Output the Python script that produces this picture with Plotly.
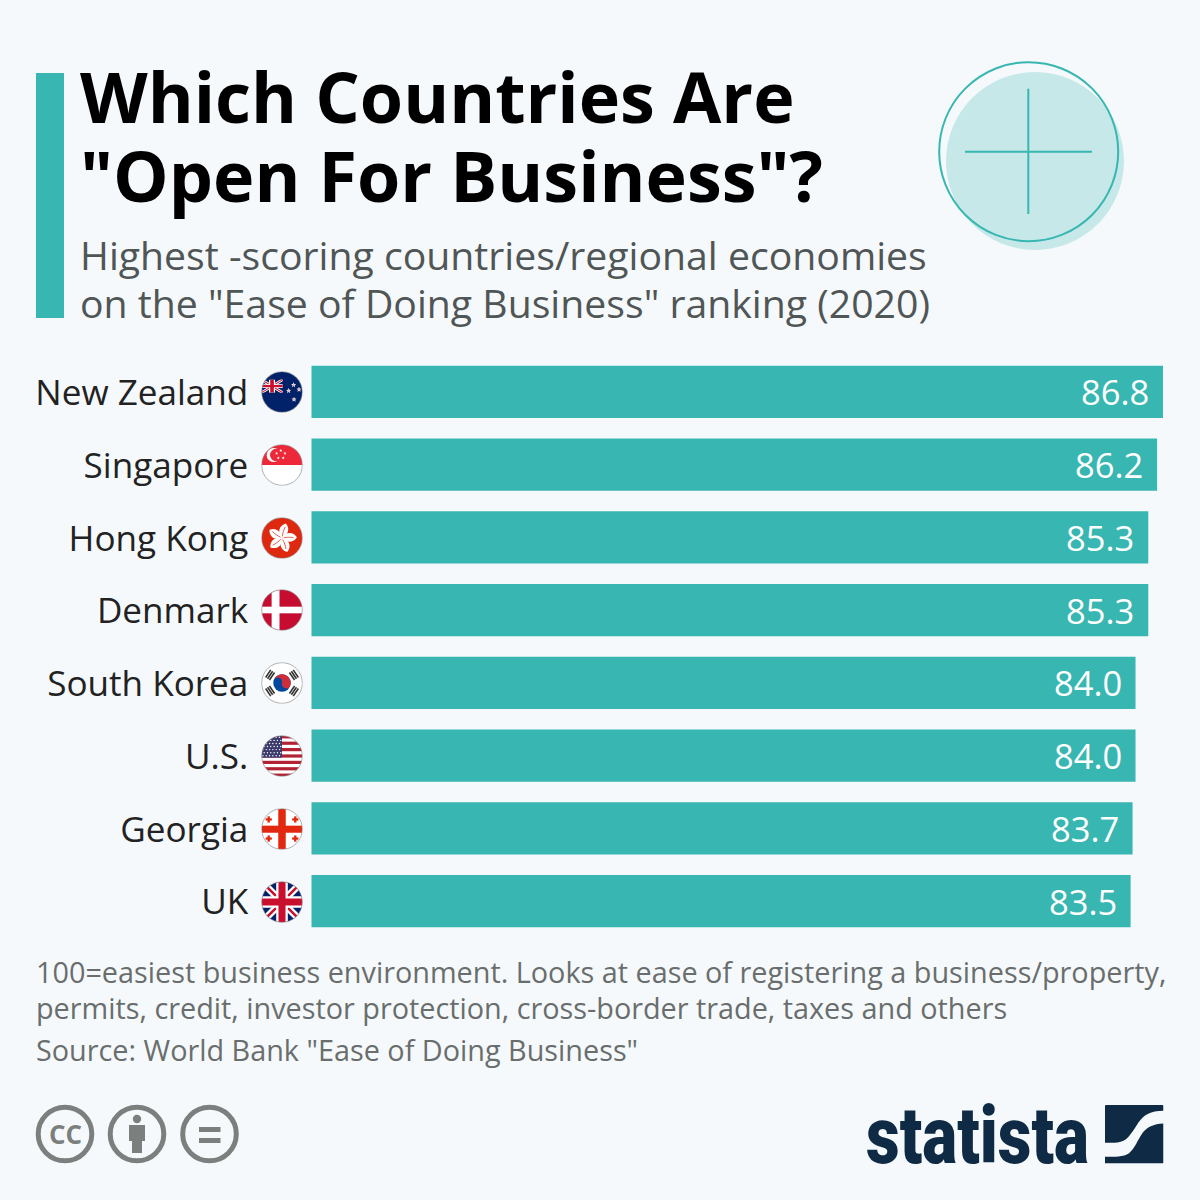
import base64, math
import plotly.graph_objects as go

countries = ["New Zealand", "Singapore", "Hong Kong", "Denmark", "South Korea", "U.S.", "Georgia", "UK"]
scores = [86.8, 86.2, 85.3, 85.3, 84.0, 84.0, 83.7, 83.5]
title_lines = ["Which Countries Are", "\"Open For Business\"?"]
subtitle_lines = ["Highest -scoring countries/regional economies", "on the \"Ease of Doing Business\" ranking (2020)"]
note_lines = ["100=easiest business environment. Looks at ease of registering a business/property,",
              "permits, credit, investor protection, cross-border trade, taxes and others"]
source_line = "Source: World Bank \"Ease of Doing Business\""

TEAL = "#38b6b1"
BG = "#f5f9fc"
NAVY = "#0f2a44"
GREY = "#7b807e"
FONT = "Open Sans"
W = 1200.0


def px(x):
    return x / W


def py(y):
    return 1 - y / W


def star(cx, cy, r, fill):
    pts = []
    for i in range(10):
        a = -math.pi / 2 + i * math.pi / 5
        rr = r if i % 2 == 0 else r * 0.42
        pts.append(f"{cx + rr * math.cos(a):.2f},{cy + rr * math.sin(a):.2f}")
    return f'<polygon points="{" ".join(pts)}" fill="{fill}"/>'


def jack():
    return ('<rect width="100" height="100" fill="#012169"/>'
            '<path d="M0 0L100 100M100 0L0 100" stroke="#fff" stroke-width="17"/>'
            '<path d="M0 0L100 100M100 0L0 100" stroke="#c8102e" stroke-width="6"/>'
            '<path d="M50 0V100M0 50H100" stroke="#fff" stroke-width="28"/>'
            '<path d="M50 0V100M0 50H100" stroke="#c8102e" stroke-width="17"/>')


def flag_nz():
    s = '<rect width="100" height="100" fill="#012169"/>'
    s += '<svg x="0" y="20" width="52" height="32" viewBox="0 0 100 100" preserveAspectRatio="none">' + jack() + '</svg>'
    for (x, y) in [(78, 33), (91, 44), (66, 47), (79, 68)]:
        s += star(x, y, 6.5, "#fff") + star(x, y, 4, "#e8a0a8")
    return s


def flag_sg():
    s = '<rect width="100" height="100" fill="#fff"/><rect width="100" height="50" fill="#ed2939"/>'
    s += '<circle cx="30" cy="26" r="17" fill="#fff"/><circle cx="36" cy="26" r="15" fill="#ed2939"/>'
    for (x, y) in [(47, 15), (57, 22), (53, 33), (41, 33), (37, 22)]:
        s += star(x, y, 4, "#fff")
    return s


def flag_hk():
    s = '<rect width="100" height="100" fill="#de2910"/>'
    for i in range(5):
        s += (f'<g transform="rotate({i * 72 + 12} 50 50)">'
              '<path d="M50 50C35 38 37 22 52 14C65 24 63 40 50 50Z" fill="#fff"/>'
              '<path d="M50 46C49 38 50 30 52 22" stroke="#de2910" stroke-width="1.6" fill="none"/></g>')
    return s


def flag_dk():
    return ('<rect width="100" height="100" fill="#c60c30"/>'
            '<rect x="25" width="19" height="100" fill="#fff"/>'
            '<rect y="42" width="100" height="16" fill="#fff"/>')


def flag_kr():
    s = '<rect width="100" height="100" fill="#fff"/>'
    s += '<circle cx="50" cy="50" r="21" fill="#0047a0"/>'
    s += '<path d="M29 50A21 21 0 0 1 71 50A10.5 10.5 0 0 1 50 50A10.5 10.5 0 0 0 29 50Z" fill="#cd2e3a" transform="rotate(15 50 50)"/>'
    for ang in (-56, 56, 124, -124):
        s += f'<g transform="rotate({ang} 50 50)">'
        for k in range(3):
            s += f'<rect x="39" y="{8 + k * 5.5}" width="22" height="3.8" fill="#333"/>'
        s += '</g>'
    return s


def flag_us():
    s = '<rect width="100" height="100" fill="#fff"/>'
    for i in range(0, 13, 2):
        s += f'<rect y="{i * 100 / 13:.2f}" width="100" height="{100 / 13:.2f}" fill="#b22234"/>'
    s += '<rect width="50" height="54" fill="#3c3b6e"/>'
    for r in range(7):
        for c in range(6):
            s += f'<circle cx="{4 + c * 8 + (r % 2) * 3}" cy="{5 + r * 7.4}" r="1.7" fill="#fff"/>'
    return s


def flag_ge():
    s = '<rect width="100" height="100" fill="#fff"/>'
    s += '<rect x="41" width="18" height="100" fill="#e2290f"/><rect y="42" width="100" height="17" fill="#e2290f"/>'
    for (x, y) in [(18, 27), (82, 27), (18, 73), (82, 73)]:
        s += (f'<rect x="{x - 7.5}" y="{y - 2.8}" width="15" height="5.6" fill="#e2290f"/>'
              f'<rect x="{x - 2.8}" y="{y - 7.5}" width="5.6" height="15" fill="#e2290f"/>')
    return s


def circle_flag(body, idx):
    svg = ('<svg xmlns="http://www.w3.org/2000/svg" width="200" height="200" viewBox="0 0 100 100">'
           f'<defs><clipPath id="c{idx}"><circle cx="50" cy="50" r="49"/></clipPath></defs>'
           f'<g clip-path="url(#c{idx})">{body}</g>'
           '<circle cx="50" cy="50" r="49" fill="none" stroke="#8a8a8a" stroke-width="1.6"/></svg>')
    return "data:image/svg+xml;base64," + base64.b64encode(svg.encode()).decode()


flags = [flag_nz(), flag_sg(), flag_hk(), flag_dk(), flag_kr(), flag_us(), flag_ge(), jack()]
flag_centres = [392, 465, 538, 610, 683, 756, 829, 902]

logo_svg = ('<svg xmlns="http://www.w3.org/2000/svg" width="350" height="350" viewBox="0 0 175 175">'
            f'<path d="M3 0H172Q175 0 175 3V17C135 18 118 28 100 52C85 76 70 100 55 107C42 114 25 113 0 113V3Q0 0 3 0Z" fill="{NAVY}"/>'
            f'<path d="M175 55V172Q175 175 172 175H0V155C30 155 55 155 72 144C88 132 98 105 112 84C125 66 145 56 175 55Z" fill="{NAVY}"/>'
            '</svg>')
logo_uri = "data:image/svg+xml;base64," + base64.b64encode(logo_svg.encode()).decode()

fig = go.Figure(go.Bar(
    x=scores, y=countries, orientation="h", marker=dict(color=TEAL, line=dict(width=0)),
    hoverinfo="skip", width=52 / 72.7,
))

images = [dict(source=circle_flag(b, i), xref="paper", yref="paper", x=px(282), y=py(c), sizex=px(41.5), sizey=41.5 / W,
               xanchor="center", yanchor="middle", sizing="stretch", layer="above")
          for i, (b, c) in enumerate(zip(flags, flag_centres))]
images.append(dict(source=logo_uri, xref="paper", yref="paper", x=px(1105), y=py(1105), sizex=px(58.5), sizey=58.5 / W,
                   xanchor="left", yanchor="top", sizing="stretch", layer="above"))


def rect(x0, y0, x1, y1, color):
    return dict(type="rect", xref="paper", yref="paper", x0=px(x0), x1=px(x1), y0=py(y0), y1=py(y1),
                fillcolor=color, line=dict(width=0), layer="above")


def circ(cx, cy, r, fill, line=None, lw=0):
    return dict(type="circle", xref="paper", yref="paper", x0=px(cx - r), x1=px(cx + r), y0=py(cy - r), y1=py(cy + r),
                fillcolor=fill, line=dict(width=lw, color=line or "rgba(0,0,0,0)"), layer="above")


def seg(x0, y0, x1, y1):
    return dict(type="line", xref="paper", yref="paper", x0=px(x0), x1=px(x1), y0=py(y0), y1=py(y1),
                line=dict(color=TEAL, width=2), layer="above")


shapes = [
    rect(36, 73, 64, 318, TEAL),
    circ(1035, 161, 89, "#c6e8e8"),
    circ(1028.7, 151.7, 89.5, "rgba(0,0,0,0)", TEAL, 2),
    seg(965, 151.7, 1092, 151.7),
    seg(1028.3, 88.7, 1028.3, 214),
    circ(65, 1134, 26.8, "rgba(0,0,0,0)", GREY, 5),
    circ(137, 1134, 26.8, "rgba(0,0,0,0)", GREY, 5),
    circ(209.5, 1134, 26.8, "rgba(0,0,0,0)", GREY, 5),
    circ(137, 1119, 4.2, GREY),
    rect(129, 1125, 145, 1141, GREY),
    rect(132, 1140, 142, 1153, GREY),
    rect(199, 1127, 220.5, 1132, GREY),
    rect(199, 1138, 220.5, 1143, GREY),
]


def text(x, baseline, s, size, color, bold=False, anchor="left", family=FONT, weight=None):
    f = dict(family=family, size=size, color=color)
    if weight:
        f["weight"] = weight
    return dict(xref="paper", yref="paper", x=px(x), y=py(baseline - size * 0.34), text=f"<b>{s}</b>" if bold else s,
                showarrow=False, xanchor=anchor, yanchor="middle", align="left",
                font=f, borderpad=0, borderwidth=0)


ann = []
for ln, b in zip(title_lines, [120, 199]):
    ann.append(text(80, b, ln, 70, "#000000", bold=True))
for ln, b in zip(subtitle_lines, [268, 316]):
    ann.append(text(80, b, ln, 39.2, "#505555"))
for ln, b in zip(note_lines, [981, 1017]):
    ann.append(text(36.3, b, ln, 28.8, "#696e6d"))
ann.append(text(36.3, 1059, source_line, 28.8, "#696e6d"))
ann.append(text(65, 1142.5, "CC", 26, GREY, bold=True, anchor="center"))
ann.append(text(1001.5, 1163, "statista", 80, NAVY, anchor="center", family="Roboto", weight=900))
for c, v in zip(countries, scores):
    ann.append(dict(x=v, y=c, xref="x", yref="y", text=f"{v:.1f}", showarrow=False, xanchor="right", xshift=-12,
                    yanchor="middle", font=dict(family=FONT, size=34.5, color="#ffffff")))

fig.update_layout(
    width=1200, height=1200, margin=dict(l=0, r=0, t=0, b=0), paper_bgcolor=BG, plot_bgcolor=BG,
    showlegend=False, font=dict(family=FONT), images=images, shapes=shapes, annotations=ann,
    xaxis=dict(domain=[px(311.3), px(1163)], range=[0, scores[0]], visible=False, fixedrange=True),
    yaxis=dict(domain=[py(937.5), py(355.5)], autorange="reversed", type="category", showgrid=False, zeroline=False,
               showline=False, ticks="", ticklabelstandoff=62, ticklabelshift=-1, fixedrange=True,
               tickfont=dict(family=FONT, size=35.1, color="#222222")),
)

post = """
document.body.style.margin='0';
document.querySelectorAll('.annotation-text').forEach(function(t){
  if(t.textContent==='statista'){t.setAttribute('textLength','223');t.setAttribute('lengthAdjust','spacingAndGlyphs');}
});
"""
fig.write_html("out.html", config=dict(displayModeBar=False), post_script=post)
